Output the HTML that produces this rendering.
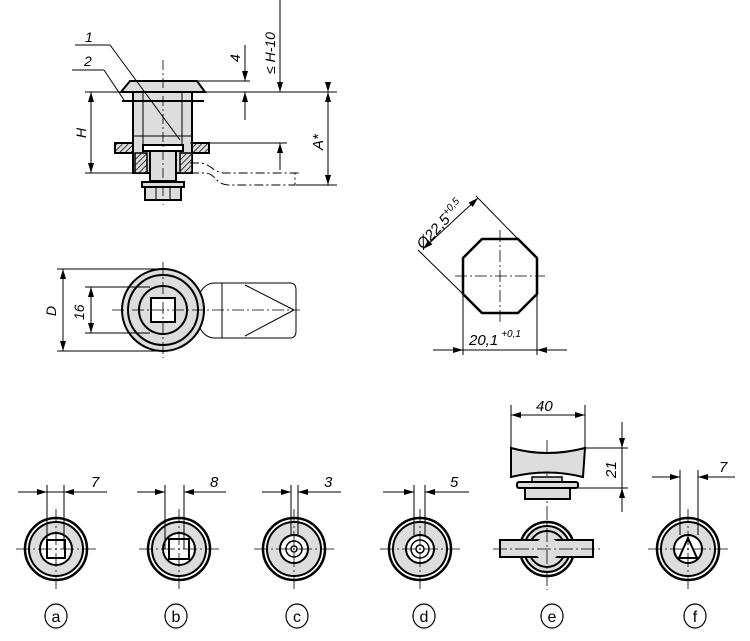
<!DOCTYPE html>
<html><head><meta charset="utf-8"><style>
html,body{margin:0;padding:0;background:#fff}
svg{display:block}
text{font-family:"Liberation Sans",sans-serif;font-style:italic;fill:#000}
</style></head><body>
<svg width="750" height="641" viewBox="0 0 750 641" xmlns="http://www.w3.org/2000/svg">
<defs>
<marker id="ar" viewBox="0 0 10 6" refX="10" refY="3" markerWidth="10" markerHeight="6" orient="auto" markerUnits="userSpaceOnUse"><path d="M0,0L10,3L0,6z" fill="#000"/></marker>
<pattern id="hat" width="4" height="4" patternUnits="userSpaceOnUse" patternTransform="rotate(45)"><rect width="4" height="4" fill="#ddd"/><line x1="0" y1="0" x2="0" y2="4" stroke="#000" stroke-width="1.5"/></pattern>
</defs>
<g stroke="#000" fill="none" stroke-width="1">

<line x1="85" y1="92" x2="337" y2="92"/>
<line x1="85" y1="173" x2="190" y2="173"/>
<rect x="133" y="92" width="59" height="81" fill="#ddd" stroke-width="2"/>
<line x1="143" y1="92" x2="143" y2="173"/>
<line x1="182" y1="92" x2="182" y2="173"/>
<line x1="133" y1="136" x2="192" y2="136"/>
<polygon points="130,81 197,81 205,92 121,92" fill="#ddd" stroke-width="2"/>
<line x1="122" y1="101" x2="204" y2="101" stroke-width="2"/>
<rect x="115" y="143" width="18" height="10" fill="url(#hat)" stroke-width="2"/>
<rect x="192" y="143" width="17" height="10" fill="url(#hat)" stroke-width="2"/>
<rect x="143" y="145" width="40" height="6" fill="#fff" stroke-width="2"/>
<rect x="135" y="153" width="12" height="20" fill="url(#hat)" stroke-width="1.5"/>
<rect x="180" y="153" width="12" height="20" fill="url(#hat)" stroke-width="1.5"/>
<rect x="150" y="151" width="26" height="30" fill="#ddd" stroke-width="2"/>
<rect x="142" y="182" width="42" height="5" fill="#ddd" stroke-width="2"/>
<rect x="145" y="187" width="36" height="13" fill="#ddd" stroke-width="2"/>
<line x1="156" y1="187" x2="156" y2="200"/><line x1="170" y1="187" x2="170" y2="200"/>
<line x1="163" y1="60" x2="163" y2="205" stroke-dasharray="10,3,2,3" stroke-width="0.8"/>
<path d="M190,173 L205,173 Q210,173 215,178 Q220,185 230,185 L295,185 L295,173" stroke-dasharray="9,3,2,3"/>
<path d="M190,163 L200,163 Q205,163 212,168 Q218,173 225,173 L300,173" stroke-dasharray="9,3,2,3"/>
<line x1="91" y1="110" x2="91" y2="92" marker-end="url(#ar)"/>
<line x1="91" y1="150" x2="91" y2="173" marker-end="url(#ar)"/>
<line x1="91" y1="110" x2="91" y2="150"/>
<text x="0" y="0" font-size="14" transform="translate(86,138) rotate(-90)" stroke="none">H</text>
<line x1="197" y1="81" x2="250" y2="81"/>
<line x1="245" y1="45" x2="245" y2="81" marker-end="url(#ar)"/>
<line x1="245" y1="120" x2="245" y2="92" marker-end="url(#ar)"/>
<text font-size="14" transform="translate(240,62) rotate(-90)" stroke="none">4</text>
<line x1="280" y1="0" x2="280" y2="92" marker-end="url(#ar)"/>
<line x1="190" y1="143" x2="287" y2="143"/>
<line x1="280" y1="170" x2="280" y2="143" marker-end="url(#ar)"/>
<text font-size="14" transform="translate(275,74) rotate(-90)" stroke="none">≤ H-10</text>
<line x1="296" y1="185" x2="337" y2="185"/>
<line x1="328" y1="92" x2="328" y2="185" marker-end="url(#ar)" marker-start="url(#ar)"/>
<line x1="328" y1="120" x2="328" y2="92" marker-end="url(#ar)"/>
<text font-size="15" transform="translate(323,150) rotate(-90)" stroke="none">A*</text>
<line x1="75" y1="45" x2="110" y2="45"/>
<line x1="110" y1="45" x2="180" y2="140"/>
<line x1="72" y1="70" x2="104" y2="70"/>
<line x1="104" y1="70" x2="124" y2="100"/>
<text x="85" y="42" font-size="14" stroke="none">1</text>
<text x="84" y="66" font-size="14" stroke="none">2</text>

<path d="M200,293 Q205,283 215,283 L290,283 Q296,283 296,290 L296,331 Q296,338 290,338 L215,338 Q205,338 200,328" fill="#fff"/>
<line x1="222" y1="283" x2="222" y2="338"/>
<line x1="245" y1="285" x2="294" y2="310"/><line x1="245" y1="336" x2="294" y2="310"/>
<circle cx="163" cy="310" r="41" fill="#ddd" stroke-width="2"/>
<circle cx="163" cy="310" r="35" stroke-width="2"/>
<circle cx="163" cy="310" r="24" stroke-width="2"/>
<rect x="151" y="298" width="24" height="24" fill="#fff" stroke-width="2"/>
<line x1="112" y1="310" x2="300" y2="310" stroke-dasharray="12,3,2,3" stroke-width="0.8"/>
<line x1="163" y1="262" x2="163" y2="358" stroke-dasharray="12,3,2,3" stroke-width="0.8"/>
<line x1="57" y1="269" x2="163" y2="269"/><line x1="57" y1="351" x2="163" y2="351"/>
<line x1="63" y1="310" x2="63" y2="269" marker-end="url(#ar)"/><line x1="63" y1="310" x2="63" y2="351" marker-end="url(#ar)"/>
<text font-size="14" transform="translate(56,316) rotate(-90)" stroke="none">D</text>
<line x1="85" y1="287" x2="150" y2="287"/><line x1="85" y1="333" x2="150" y2="333"/>
<line x1="91" y1="310" x2="91" y2="287" marker-end="url(#ar)"/><line x1="91" y1="310" x2="91" y2="333" marker-end="url(#ar)"/>
<text font-size="14" transform="translate(84,320) rotate(-90)" stroke="none">16</text>

<polygon points="482,239 518,239 537,258 537,294 518,313 482,313 463,294 463,258" stroke-width="2.5"/>
<line x1="455" y1="276" x2="545" y2="276" stroke-dasharray="12,3,2,3" stroke-width="0.8"/>
<line x1="500" y1="230" x2="500" y2="322" stroke-dasharray="12,3,2,3" stroke-width="0.8"/>
<line x1="463" y1="294" x2="418" y2="250"/>
<line x1="518" y1="239" x2="476" y2="196"/>
<line x1="450" y1="224" x2="423" y2="249" marker-end="url(#ar)"/>
<line x1="450" y1="224" x2="478" y2="198" marker-end="url(#ar)"/>
<text font-size="15" transform="translate(423,250) rotate(-47)" stroke="none">Ø22,5<tspan font-size="10" dy="-6">+0,5</tspan></text>
<line x1="463" y1="294" x2="463" y2="355"/><line x1="537" y1="294" x2="537" y2="355"/>
<line x1="433" y1="350" x2="463" y2="350" marker-end="url(#ar)"/>
<line x1="567" y1="350" x2="537" y2="350" marker-end="url(#ar)"/>
<line x1="463" y1="350" x2="537" y2="350"/>
<text x="469" y="345" font-size="15" stroke="none">20,1<tspan font-size="10" dx="3" dy="-8">+0,1</tspan></text>

<circle cx="56" cy="549" r="31" stroke-width="2.5"/>
<circle cx="56" cy="549" r="27" fill="#ddd" stroke-width="2"/>
<circle cx="56" cy="549" r="16" fill="#fff" stroke-width="2"/>
<rect x="47" y="540" width="18" height="18" stroke-width="2"/>

<circle cx="179" cy="549" r="31" stroke-width="2.5"/>
<circle cx="179" cy="549" r="27" fill="#ddd" stroke-width="2"/>
<circle cx="179" cy="549" r="16" fill="#fff" stroke-width="2"/>
<rect x="169" y="539" width="20" height="20" stroke-width="2"/>

<circle cx="294" cy="549" r="31" stroke-width="2.5"/>
<circle cx="294" cy="549" r="27" fill="#ddd" stroke-width="2"/>
<circle cx="294" cy="549" r="14" fill="#fff" stroke-width="2"/>
<circle cx="294" cy="549" r="8" stroke-width="1.5"/>
<circle cx="294" cy="549" r="3" stroke-width="1.5"/>

<circle cx="420" cy="549" r="31" stroke-width="2.5"/>
<circle cx="420" cy="549" r="27" fill="#ddd" stroke-width="2"/>
<circle cx="420" cy="549" r="14" fill="#fff" stroke-width="2"/>
<circle cx="420" cy="549" r="9" stroke-width="1.5"/>
<circle cx="420" cy="549" r="4" stroke-width="1.5"/>

<circle cx="547" cy="549" r="27" stroke-width="2.5"/>
<circle cx="547" cy="549" r="23" fill="#ddd" stroke-width="2"/>
<path d="M529,549 A18,18 0 0 1 565,549" stroke-width="2"/>
<path d="M529,549 A18,18 0 0 0 565,549" stroke-width="2"/>
<rect x="500" y="540" width="93" height="17" fill="#ddd" stroke-width="2"/>
<circle cx="547" cy="549" r="12" fill="#ddd" stroke="none"/>

<circle cx="688" cy="549" r="31" stroke-width="2.5"/>
<circle cx="688" cy="549" r="27" fill="#ddd" stroke-width="2"/>
<circle cx="688" cy="549" r="14" fill="#fff" stroke-width="2"/>
<polygon points="688,538 697,558 679,558" stroke-width="2"/>
<g stroke-width="0.8" stroke-dasharray="14,3,2,3">
<line x1="16" y1="549" x2="96" y2="549"/><line x1="56" y1="509" x2="56" y2="590"/>
<line x1="139" y1="549" x2="219" y2="549"/><line x1="179" y1="509" x2="179" y2="590"/>
<line x1="254" y1="549" x2="334" y2="549"/><line x1="294" y1="509" x2="294" y2="590"/>
<line x1="380" y1="549" x2="460" y2="549"/><line x1="420" y1="509" x2="420" y2="590"/>
<line x1="493" y1="549" x2="601" y2="549"/><line x1="547" y1="440" x2="547" y2="590"/>
<line x1="648" y1="549" x2="728" y2="549"/><line x1="688" y1="509" x2="688" y2="590"/>
</g>
<line x1="47" y1="485" x2="47" y2="549"/><line x1="64" y1="485" x2="64" y2="549"/>
<line x1="18" y1="492" x2="47" y2="492" marker-end="url(#ar)"/><line x1="107" y1="492" x2="64" y2="492" marker-end="url(#ar)"/><line x1="47" y1="492" x2="64" y2="492"/>
<text x="91" y="487" font-size="15" stroke="none">7</text>
<line x1="165" y1="485" x2="165" y2="549"/><line x1="184" y1="485" x2="184" y2="549"/>
<line x1="137" y1="492" x2="165" y2="492" marker-end="url(#ar)"/><line x1="226" y1="492" x2="184" y2="492" marker-end="url(#ar)"/>
<text x="210" y="487" font-size="15" stroke="none">8</text>
<line x1="291" y1="485" x2="291" y2="535"/><line x1="298" y1="485" x2="298" y2="535"/>
<line x1="262" y1="492" x2="291" y2="492" marker-end="url(#ar)"/><line x1="341" y1="492" x2="298" y2="492" marker-end="url(#ar)"/>
<text x="324" y="487" font-size="15" stroke="none">3</text>
<line x1="414" y1="485" x2="414" y2="535"/><line x1="425" y1="485" x2="425" y2="535"/>
<line x1="383" y1="492" x2="414" y2="492" marker-end="url(#ar)"/><line x1="469" y1="492" x2="425" y2="492" marker-end="url(#ar)"/>
<text x="450" y="487" font-size="15" stroke="none">5</text>
<line x1="680" y1="470" x2="680" y2="535"/><line x1="698" y1="470" x2="698" y2="535"/>
<line x1="652" y1="477" x2="680" y2="477" marker-end="url(#ar)"/><line x1="735" y1="477" x2="698" y2="477" marker-end="url(#ar)"/>
<text x="719" y="472" font-size="15" stroke="none">7</text>

<path d="M511,448 Q547,458 585,448 L583,477 Q547,468 511,477 Z" fill="#ddd" stroke-width="2"/>
<rect x="532" y="477" width="30" height="5" fill="#ddd" stroke-width="1.5"/>
<rect x="517" y="482" width="61" height="6" rx="2" fill="#ddd" stroke-width="2"/>
<rect x="525" y="488" width="45" height="11" fill="#ddd" stroke-width="2"/>
<line x1="511" y1="405" x2="511" y2="450"/><line x1="585" y1="405" x2="585" y2="450"/>
<line x1="547" y1="415" x2="511" y2="415" marker-end="url(#ar)"/><line x1="547" y1="415" x2="585" y2="415" marker-end="url(#ar)"/>
<text x="536" y="411" font-size="15" stroke="none">40</text>
<line x1="585" y1="448" x2="628" y2="448"/><line x1="578" y1="488" x2="628" y2="488"/>
<line x1="622" y1="422" x2="622" y2="448" marker-end="url(#ar)"/><line x1="622" y1="512" x2="622" y2="488" marker-end="url(#ar)"/>
<line x1="622" y1="448" x2="622" y2="488"/>
<text font-size="15" transform="translate(616,478) rotate(-90)" stroke="none">21</text>

<g stroke-width="1.2">
<ellipse cx="56" cy="616" rx="11" ry="12"/><ellipse cx="176" cy="616" rx="11" ry="12"/>
<ellipse cx="297" cy="616" rx="11" ry="12"/><ellipse cx="424" cy="616" rx="11" ry="12"/>
<ellipse cx="552" cy="616" rx="11" ry="12"/><ellipse cx="695" cy="616" rx="11" ry="12"/>
</g>
</g>
<g font-size="16" text-anchor="middle">
<text x="56" y="622" style="font-style:normal">a</text>
<text x="176" y="622" style="font-style:normal">b</text>
<text x="297" y="622" style="font-style:normal">c</text>
<text x="424" y="622" style="font-style:normal">d</text>
<text x="552" y="622" style="font-style:normal">e</text>
<text x="695" y="622" style="font-style:normal">f</text>
</g>
</svg>
</body></html>
